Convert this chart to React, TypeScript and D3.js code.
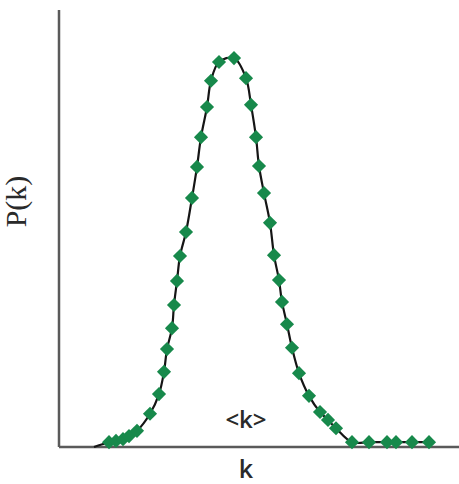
import { scaleLinear, line, curveCatmullRom, symbol, symbolSquare } from "d3";

const width = 459;
const height = 484;
const margin = { top: 10, right: 0, bottom: 37, left: 59 };

// degree k (arbitrary units) and P(k) (arbitrary units)
const kValues = [
  12.5, 14.25, 16, 17.5, 19.5, 22.75, 25, 26.25, 27, 28.25, 28.75, 29.5, 30.25,
  31.75, 33.25, 34.5, 35.5, 37, 38, 40, 43.75, 46.75, 48, 49.25, 50, 51.25,
  52.75, 53.75, 55, 55.75, 57, 58.25, 60, 62.5, 65.25, 67.25, 69.25, 73.25,
  77.5, 82, 84.25, 88.25, 92.5,
];
const pValues = [
  1.1, 1.4, 1.8, 2.5, 3.7, 7.6, 12.1, 17.2, 22.4, 27.2, 32.5, 38, 43.7, 49.2,
  57, 64.1, 70.9, 77.8, 83.8, 88.1, 89, 84.4, 78.3, 70.9, 64.3, 58.1, 51.3,
  43.9, 38.2, 33.2, 28.1, 22.7, 16.9, 11.7, 8, 6.2, 4.3, 1.1, 1.1, 1.1, 1.1,
  1.1, 1.1,
];
// where the fitted curve leaves the axis
const curveStart = { k: 8.75, p: 0 };

const yLabel = "P(k)";
const xLabel = "k";
const meanLabel = "<k>";
const meanK = 46.75;

export default function App() {
  const innerWidth = width - margin.left - margin.right;
  const innerHeight = height - margin.top - margin.bottom;

  const xScale = scaleLinear().domain([0, 100]).range([0, innerWidth]);
  const yScale = scaleLinear().domain([0, 100]).range([innerHeight, 0]);

  const points = kValues.map((k, i) => ({ k, p: pValues[i] }));
  const linePath = line<{ k: number; p: number }>()
    .x((d) => xScale(d.k))
    .y((d) => yScale(d.p))
    .curve(curveCatmullRom.alpha(0.5))([curveStart, ...points]);

  const diamond = symbol().type(symbolSquare).size(100)();

  return (
    <svg
      width={width}
      height={height}
      style={{ position: "absolute", left: 0, top: 0, background: "#fff" }}
    >
      <g transform={`translate(${margin.left},${margin.top})`}>
        <line
          x1={0}
          x2={0}
          y1={0}
          y2={innerHeight}
          stroke="#5a5a5a"
          strokeWidth={2.5}
        />
        <line
          x1={0}
          x2={innerWidth}
          y1={innerHeight}
          y2={innerHeight}
          stroke="#5a5a5a"
          strokeWidth={2.5}
        />
        <path d={linePath ?? ""} fill="none" stroke="#151515" strokeWidth={2.2} />
        {points.map((d, i) => (
          <path
            key={i}
            d={diamond ?? ""}
            transform={`translate(${xScale(d.k)},${yScale(d.p)}) rotate(45)`}
            fill="#17894b"
          />
        ))}
        <text
          x={xScale(meanK)}
          y={innerHeight - 19}
          textAnchor="middle"
          fontFamily="Open Sans"
          fontWeight={600}
          fontSize={24}
          fill="#2a2a2a"
        >
          {meanLabel}
        </text>
        <text
          x={xScale(46.75)}
          y={innerHeight + 31}
          textAnchor="middle"
          fontFamily="Open Sans"
          fontWeight={600}
          fontSize={25}
          fill="#2a2a2a"
        >
          {xLabel}
        </text>
        <text
          transform={`translate(${-33},${innerHeight / 2 - 27}) rotate(-90)`}
          textAnchor="middle"
          fontFamily="Liberation Serif"
          fontSize={30}
          fill="#2a2a2a"
        >
          {yLabel}
        </text>
      </g>
    </svg>
  );
}
